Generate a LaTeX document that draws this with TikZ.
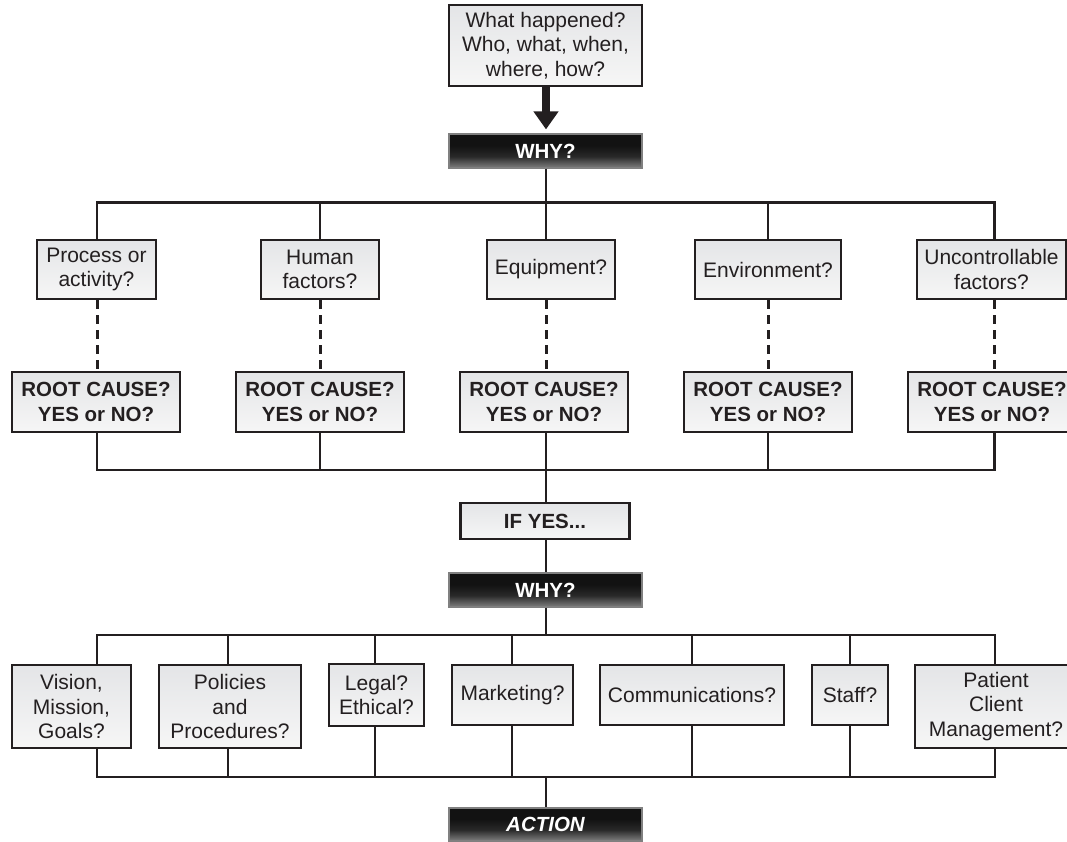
\documentclass[tikz,border=0pt]{standalone}
\usepackage{fontspec}
\setmainfont{Liberation Sans}
\usetikzlibrary{arrows.meta}
\definecolor{ink}{HTML}{231F20}
\definecolor{ltop}{HTML}{E4E5E7}
\definecolor{lbot}{HTML}{F6F6F6}
% dark header bars: black with a soft grey glow along the lower edge
\pgfdeclareverticalshading{darkfade}{100bp}{color(0bp)=(black!50); color(25bp)=(black!50); color(42bp)=(black!84); color(58bp)=(black!93); color(100bp)=(black!93)}

\begin{document}
\begin{tikzpicture}[x=1pt,y=-1pt,
  every node/.style={inner sep=0pt, align=center, text=ink},
  lightbox/.style={draw=ink, line width=2.6pt, top color=ltop, bottom color=lbot,
    font=\fontsize{21}{24.5}\selectfont},
  boldbox/.style={lightbox, font=\fontsize{20.5}{24.5}\selectfont\bfseries},
  darkbox/.style={draw=black!50, line width=1.2pt, shading=darkfade, text=white,
    minimum width=193pt, minimum height=34pt, font=\fontsize{20.5}{24}\selectfont\bfseries},
  link/.style={draw=ink, line width=2.8pt, line join=miter},
  dashlink/.style={draw=ink, line width=3pt, dash pattern=on 9pt off 6pt},
]
\useasboundingbox (0,0) rectangle (1067,841);

% ---- top: incident description and first WHY
\node[lightbox, minimum width=193pt, minimum height=81pt] (what) at (545.5,45.5)
  {What happened?\\Who, what, when,\\where, how?};
\node[darkbox] (why1) at (545.5,151) {WHY?};
\draw[ink, line width=8pt, -{Triangle[width=24pt,length=18pt]}, shorten >=4pt]
  (what.south -| 546,0) -- (why1.north -| 546,0);

% ---- first row of categories
\node[lightbox, minimum width=119pt, minimum height=59pt] (proc)  at (96.5,269.5)  {Process or\\activity?};
\node[lightbox, minimum width=118pt, minimum height=59pt] (human) at (320,269.5)   {Human\\factors?};
\node[lightbox, minimum width=128pt, minimum height=59pt] (equip) at (551,269.5)   {Equipment?};
\node[lightbox, minimum width=146pt, minimum height=59pt] (env)   at (768,269.5)   {Environment?};
\node[lightbox, minimum width=149pt, minimum height=59pt] (unc)   at (991.5,269.5) {Uncontrollable\\factors?};

% ---- root cause questions
\node[boldbox, minimum width=168pt, minimum height=60pt] (r1) at (96,402)  {ROOT CAUSE?\\YES or NO?};
\node[boldbox, minimum width=168pt, minimum height=60pt] (r2) at (320,402) {ROOT CAUSE?\\YES or NO?};
\node[boldbox, minimum width=168pt, minimum height=60pt] (r3) at (544,402) {ROOT CAUSE?\\YES or NO?};
\node[boldbox, minimum width=168pt, minimum height=60pt] (r4) at (768,402) {ROOT CAUSE?\\YES or NO?};
\node[boldbox, minimum width=168pt, minimum height=60pt] (r5) at (992,402) {ROOT CAUSE?\\YES or NO?};

% ---- IF YES and second WHY
\node[boldbox, minimum width=169pt, minimum height=36pt] (ifyes) at (545,521) {IF YES...};
\node[darkbox] (why2) at (545.5,590) {WHY?};

% ---- second row of categories
\node[lightbox, minimum width=119pt, minimum height=83pt] (vision) at (71.5,706.5) {Vision,\\Mission,\\Goals?};
\node[lightbox, minimum width=142pt, minimum height=83pt] (policy) at (230,706.5)  {Policies\\and\\Procedures?};
\node[lightbox, minimum width=95pt,  minimum height=62pt] (legal)  at (376.5,695)  {Legal?\\Ethical?};
\node[lightbox, minimum width=121pt, minimum height=60pt] (market) at (512.5,695)  {Marketing?};
\node[lightbox, minimum width=184pt, minimum height=60pt] (comm)   at (692,695)    {Communications?};
\node[lightbox, minimum width=76pt,  minimum height=60pt] (staff)  at (850,695)    {Staff?};
\node[lightbox, minimum width=162pt, minimum height=83pt] (client) at (996,706.5)  {Patient\\Client\\Management?};

\node[darkbox, font=\fontsize{20.5}{24}\selectfont\bfseries\itshape, minimum height=33pt] (action) at (545.5,824.5) {ACTION};

% ---- bus taps
\coordinate (a1) at (97,202.5);  \coordinate (a2) at (320,202.5); \coordinate (a3) at (546,202.5);
\coordinate (a4) at (768,202.5); \coordinate (a5) at (994.5,202.5);
\coordinate (b1) at (97,470);    \coordinate (b2) at (320,470);   \coordinate (b3) at (546,470);
\coordinate (b4) at (768,470);   \coordinate (b5) at (994.5,470);
\coordinate (c1) at (97,635);    \coordinate (c2) at (228,635);   \coordinate (c3) at (375,635);
\coordinate (c4) at (512,635);   \coordinate (cm) at (546,635);   \coordinate (c5) at (692,635);
\coordinate (c6) at (850,635);   \coordinate (c7) at (995,635);
\coordinate (d1) at (97,777);    \coordinate (d2) at (228,777);   \coordinate (d3) at (375,777);
\coordinate (d4) at (512,777);   \coordinate (dm) at (546,777);   \coordinate (d5) at (692,777);
\coordinate (d6) at (850,777);   \coordinate (d7) at (995,777);

% ---- first fan-out
\draw[link] (why1.south -| a3) -- (a3);
\draw[link] (a1 |- proc.north) -- (a1) -- (a5) -- (a5 |- unc.north);
\draw[link] (a2) -- (a2 |- human.north);
\draw[link] (a3) -- (a3 |- equip.north);
\draw[link] (a4) -- (a4 |- env.north);

% ---- dashed links to root cause questions
\draw[dashlink] (a1 |- proc.south)  -- (a1 |- r1.north);
\draw[dashlink] (a2 |- human.south) -- (a2 |- r2.north);
\draw[dashlink] (a3 |- equip.south) -- (a3 |- r3.north);
\draw[dashlink] (a4 |- env.south)   -- (a4 |- r4.north);
\draw[dashlink] (a5 |- unc.south)   -- (a5 |- r5.north);

% ---- gathering bus
\draw[link] (b1 |- r1.south) -- (b1) -- (b5) -- (b5 |- r5.south);
\draw[link] (b2 |- r2.south) -- (b2);
\draw[link] (b3 |- r3.south) -- (b3 |- ifyes.north);
\draw[link] (b4 |- r4.south) -- (b4);
\draw[link] (b3 |- ifyes.south) -- (b3 |- why2.north);

% ---- second fan-out
\draw[link] (cm |- why2.south) -- (cm);
\draw[link] (c1 |- vision.north) -- (c1) -- (c7) -- (c7 |- client.north);
\draw[link] (c2) -- (c2 |- policy.north);
\draw[link] (c3) -- (c3 |- legal.north);
\draw[link] (c4) -- (c4 |- market.north);
\draw[link] (c5) -- (c5 |- comm.north);
\draw[link] (c6) -- (c6 |- staff.north);

% ---- second gathering bus and action
\draw[link] (d1 |- vision.south) -- (d1) -- (d7) -- (d7 |- client.south);
\draw[link] (d2 |- policy.south) -- (d2);
\draw[link] (d3 |- legal.south)  -- (d3);
\draw[link] (d4 |- market.south) -- (d4);
\draw[link] (d5 |- comm.south)   -- (d5);
\draw[link] (d6 |- staff.south)  -- (d6);
\draw[link] (dm) -- (dm |- action.north);
\end{tikzpicture}
\end{document}
